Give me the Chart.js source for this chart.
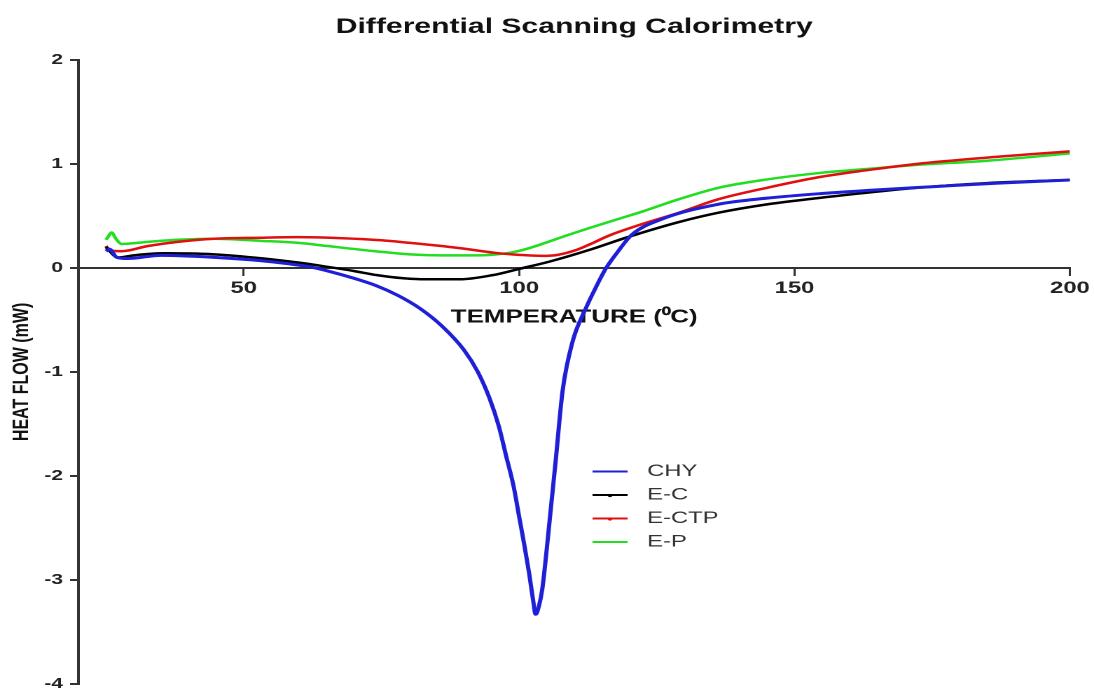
<!DOCTYPE html>
<html>
<head>
<meta charset="utf-8">
<title>Differential Scanning Calorimetry</title>
<script src="https://cdn.jsdelivr.net/npm/chart.js@4.4.0/dist/chart.umd.min.js"></script>
<style>
  html, body { margin: 0; padding: 0; background: #fff; overflow: hidden; }
  #dsc { display: block; }
</style>
</head>
<body>
<!-- the drawing surface is laid out narrower and widened to the page width -->
<canvas id="dsc" width="781" height="695" style="width:1094px;height:695px"></canvas>
<script>
// Thermograms: temperature (°C) and heat flow (mW) for each sample
const chyTemp = [25, 25.6, 27, 29, 35, 45, 53, 58, 62, 66, 70, 74, 78, 82, 86, 90, 92.5, 94.6, 96.3, 97.7, 99, 100, 101, 101.8, 102.5, 103, 103.6, 104.2, 105.5, 106.7, 107.9, 109.7, 112.1, 114, 115.7, 117.7, 120.5, 126, 136, 145, 155, 165, 175, 187, 200];
const chyFlow = [0.16, 0.18, 0.10, 0.09, 0.12, 0.10, 0.07, 0.04, 0.01, -0.04, -0.10, -0.17, -0.265, -0.39, -0.56, -0.79, -1.00, -1.25, -1.52, -1.82, -2.10, -2.39, -2.68, -2.93, -3.18, -3.33, -3.25, -3.09, -2.45, -1.82, -1.18, -0.71, -0.39, -0.18, -0.01, 0.14, 0.32, 0.47, 0.61, 0.67, 0.715, 0.75, 0.78, 0.815, 0.845];

const ecTemp = [25, 27.2, 30, 35.5, 44.6, 53.6, 60, 65.2, 70, 74.2, 79, 83.2, 89.2, 95.2, 100, 105.5, 113.2, 119.4, 129, 136.2, 145, 154.2, 160, 172.3, 185, 200];
const ecFlow = [0.20, 0.10, 0.12, 0.14, 0.13, 0.09, 0.05, 0.01, -0.03, -0.07, -0.10, -0.11, -0.11, -0.07, -0.01, 0.06, 0.18, 0.29, 0.44, 0.53, 0.61, 0.67, 0.705, 0.77, 0.815, 0.845];

const ectpTemp = [25, 25.6, 27.8, 32.6, 38, 44.6, 53, 60, 68, 75, 80.2, 85, 89.2, 96.4, 100, 104.2, 107, 110.3, 113, 116.3, 122.3, 129, 136.2, 145, 154.2, 163.3, 172.3, 185, 200];
const ectpFlow = [0.21, 0.17, 0.16, 0.21, 0.25, 0.28, 0.29, 0.295, 0.285, 0.265, 0.24, 0.215, 0.19, 0.14, 0.125, 0.115, 0.125, 0.17, 0.23, 0.31, 0.42, 0.53, 0.66, 0.77, 0.87, 0.94, 1.00, 1.06, 1.12];

const epTemp = [25, 25.4, 26, 26.8, 27.8, 32.6, 38, 44.6, 53, 60, 65.2, 72, 80.2, 86, 92.3, 97.7, 100.5, 104.2, 108, 113.2, 118, 122.3, 129, 136.2, 145, 154.2, 163, 172.3, 185, 200];
const epFlow = [0.27, 0.30, 0.34, 0.28, 0.23, 0.25, 0.27, 0.28, 0.26, 0.24, 0.21, 0.17, 0.13, 0.12, 0.12, 0.14, 0.17, 0.23, 0.30, 0.39, 0.47, 0.54, 0.66, 0.77, 0.85, 0.91, 0.95, 0.99, 1.03, 1.10];

const seriesNames = ['CHY', 'E-C', 'E-CTP', 'E-P'];
const xTickValues = [50, 100, 150, 200];

const seriesColors = ['#1f1fd6', '#000000', '#e01010', '#22dd22'];
const FONT = '"Liberation Sans", Arial, Helvetica, sans-serif';

function pairs(xs, ys) {
  return xs.map((x, i) => ({ x: x, y: ys[i] }));
}

const series = [
  pairs(chyTemp, chyFlow),
  pairs(ecTemp, ecFlow),
  pairs(ectpTemp, ectpFlow),
  pairs(epTemp, epFlow)
];

// Legend drawn inside the plot, beside the endotherm
const insideLegend = {
  id: 'insideLegend',
  afterDatasetsDraw(chart) {
    const ctx = chart.ctx;
    const x0 = 423, x1 = 448, tx = 462, y0 = 471.5, gap = 23.5;
    ctx.save();
    chart.data.datasets.forEach((ds, i) => {
      const y = y0 + i * gap;
      ctx.strokeStyle = ds.borderColor;
      ctx.lineWidth = 2;
      ctx.beginPath();
      ctx.moveTo(x0, y);
      ctx.lineTo(x1, y);
      ctx.stroke();
      if (i === 1 || i === 2) {
        ctx.fillStyle = ds.borderColor;
        ctx.beginPath();
        ctx.arc((x0 + x1) / 2, y + 0.5, 1.6, 0, Math.PI * 2);
        ctx.fill();
      }
      ctx.fillStyle = '#333';
      ctx.font = '17px ' + FONT;
      ctx.textBaseline = 'middle';
      ctx.textAlign = 'left';
      ctx.fillText(ds.label, tx, y);
    });
    ctx.restore();
  }
};

new Chart(document.getElementById('dsc'), {
  type: 'line',
  data: {
    datasets: series.map((pts, i) => ({
      label: seriesNames[i],
      data: pts,
      borderColor: seriesColors[i],
      backgroundColor: seriesColors[i],
      borderWidth: i === 0 ? 3 : 2.5,
      pointRadius: 0,
      fill: false,
      cubicInterpolationMode: 'monotone'
    }))
  },
  options: {
    responsive: false,
    animation: false,
    devicePixelRatio: 2,
    layout: { padding: { left: 0, right: 16, top: 0, bottom: 0 } },
    plugins: {
      legend: { display: false },
      tooltip: { enabled: false },
      title: {
        display: true,
        fullSize: false,
        text: 'Differential Scanning Calorimetry',
        color: '#111',
        font: { family: FONT, size: 21.5, weight: 'bold' },
        padding: { top: 14, bottom: 20 }
      }
    },
    scales: {
      x: {
        type: 'linear',
        min: 20,
        max: 200,
        position: { y: 0 },
        afterBuildTicks: (scale) => {
          scale.ticks = xTickValues.map(v => ({ value: v }));
        },
        grid: {
          display: true,
          drawOnChartArea: false,
          drawTicks: true,
          tickLength: 7,
          color: '#333',
          lineWidth: 1.5
        },
        border: { display: true, color: '#333', width: 2 },
        ticks: {
          color: '#222',
          font: { family: FONT, size: 17, weight: 'bold' },
          padding: 3,
          maxRotation: 0,
          autoSkip: false
        },
        title: {
          display: true,
          text: 'TEMPERATURE (\u2070C)',
          color: '#111',
          font: { family: FONT, size: 18.5, weight: 'bold' },
          padding: { top: 5, bottom: 0 }
        }
      },
      y: {
        type: 'linear',
        min: -4,
        max: 2,
        position: 'left',
        afterFit: (scale) => { scale.width = 56; },
        ticks: {
          stepSize: 1,
          color: '#222',
          font: { family: FONT, size: 15, weight: 'bold', lineHeight: 0.8 },
          padding: 5
        },
        grid: {
          display: true,
          drawOnChartArea: false,
          drawTicks: true,
          tickLength: 6,
          color: '#333',
          lineWidth: 2
        },
        border: { display: true, color: '#333', width: 2 },
        title: {
          display: true,
          text: 'HEAT FLOW (mW)',
          color: '#111',
          font: { family: FONT, size: 16, weight: 'bold' },
          padding: { top: 6, bottom: 0 }
        }
      }
    }
  },
  plugins: [insideLegend]
});
</script>
</body>
</html>
